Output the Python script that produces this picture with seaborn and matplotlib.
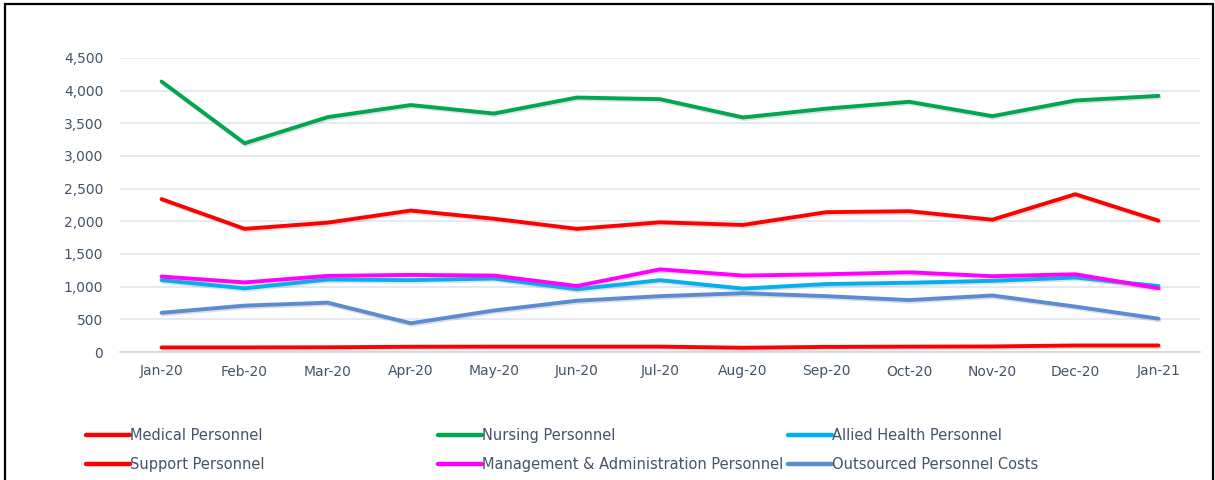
import matplotlib
matplotlib.use("Agg")
import matplotlib.pyplot as plt
import matplotlib.patheffects as pe
from matplotlib.lines import Line2D
from matplotlib.patches import Rectangle
import numpy as np
import pandas as pd
import seaborn as sns

months = ["Jan-20", "Feb-20", "Mar-20", "Apr-20", "May-20", "Jun-20", "Jul-20",
          "Aug-20", "Sep-20", "Oct-20", "Nov-20", "Dec-20", "Jan-21"]

medical = [2340, 1885, 1980, 2165, 2040, 1885, 1985, 1945, 2140, 2155, 2025, 2415, 2010]
nursing = [4140, 3195, 3595, 3780, 3650, 3895, 3870, 3590, 3725, 3830, 3610, 3850, 3920]
allied = [1100, 975, 1110, 1100, 1125, 960, 1100, 970, 1040, 1060, 1090, 1140, 1010]
support = [70, 70, 72, 80, 82, 82, 82, 65, 78, 82, 85, 100, 100]
management = [1155, 1065, 1165, 1180, 1170, 1010, 1265, 1170, 1190, 1220, 1160, 1190, 975]
outsourced = [600, 710, 755, 440, 635, 785, 855, 900, 855, 795, 865, 695, 510]

series_names = ["Medical Personnel", "Nursing Personnel", "Allied Health Personnel",
                "Support Personnel", "Management & Administration Personnel",
                "Outsourced Personnel Costs"]
series_values = [medical, nursing, allied, support, management, outsourced]
series_colors = ["#FF0000", "#00A650", "#00B0F0", "#FF0000", "#FF00FF", "#5B8BD0"]

rows = []
for name, vals in zip(series_names, series_values):
    for i, (m, v) in enumerate(zip(months, vals)):
        rows.append({"month": m, "pos": i, "value": v, "series": name})
df = pd.DataFrame(rows)

sns.set_theme(style="white")
plt.rcParams["font.family"] = ["DejaVu Sans"]

W, H = 1215, 480
fig = plt.figure(figsize=(W / 100, H / 100), dpi=100)
fig.patch.set_facecolor("white")

# plot area in pixel coordinates
left, right, top, bottom = 120, 1200, 58, 352
ax = fig.add_axes([left / W, 1 - bottom / H, (right - left) / W, (bottom - top) / H])

palette = dict(zip(series_names, series_colors))
sns.lineplot(data=df, x="pos", y="value", hue="series", hue_order=series_names,
             palette=palette, linewidth=2.8, ax=ax, legend=False, sort=False)

for ln in ax.get_lines():
    ln.set_solid_capstyle("round")
    ln.set_path_effects([pe.SimpleLineShadow(offset=(0.8, -1.2), shadow_color="gray", alpha=0.25),
                         pe.Normal()])

ax.set_xlim(-0.5, len(months) - 0.5)
ax.set_ylim(0, 4500)
ax.set_yticks(np.arange(0, 4501, 500))
ax.set_yticklabels([f"{v:,}" for v in range(0, 4501, 500)])
ax.set_xticks(range(len(months)))
ax.set_xticklabels(months)
ax.set_xlabel("")
ax.set_ylabel("")

ax.grid(axis="y", color="#DCE4EE", linewidth=1.1)
ax.grid(axis="x", visible=False)
ax.set_axisbelow(True)
for side in ["top", "right", "left"]:
    ax.spines[side].set_visible(False)
ax.spines["bottom"].set_color("#C9D3DF")
ax.spines["bottom"].set_linewidth(1.1)
ax.tick_params(axis="both", length=0, colors="#44546A", labelsize=10)
ax.tick_params(axis="y", pad=12)
ax.tick_params(axis="x", pad=9)
ax.patch.set_alpha(0)

# legends: three columns of two entries each
legend_font = {"family": ["DejaVu Sans"], "size": 10.5}
groups = [(0, 3), (1, 4), (2, 5)]
col_x = [86, 438, 788]
for (a, b), xpx in zip(groups, col_x):
    handles = [Line2D([0], [0], color=series_colors[k], linewidth=3.2, solid_capstyle="round")
               for k in (a, b)]
    labels = [series_names[a], series_names[b]]
    leg = fig.legend(handles, labels, loc="upper left",
                     bbox_to_anchor=(xpx / W, 1 - 428 / H),
                     frameon=False, prop=legend_font, handlelength=3.0,
                     handletextpad=0.05, labelspacing=0.95, borderaxespad=0,
                     borderpad=0)
    for t in leg.get_texts():
        t.set_color("#44546A")

# outer frame
fig.add_artist(Rectangle((5 / W, -0.05), (1213 - 5) / W, 1.05 - 4 / H,
                         transform=fig.transFigure, fill=False,
                         edgecolor="black", linewidth=1.6, clip_on=False))

fig.savefig("out.png", dpi=100, facecolor="white")
